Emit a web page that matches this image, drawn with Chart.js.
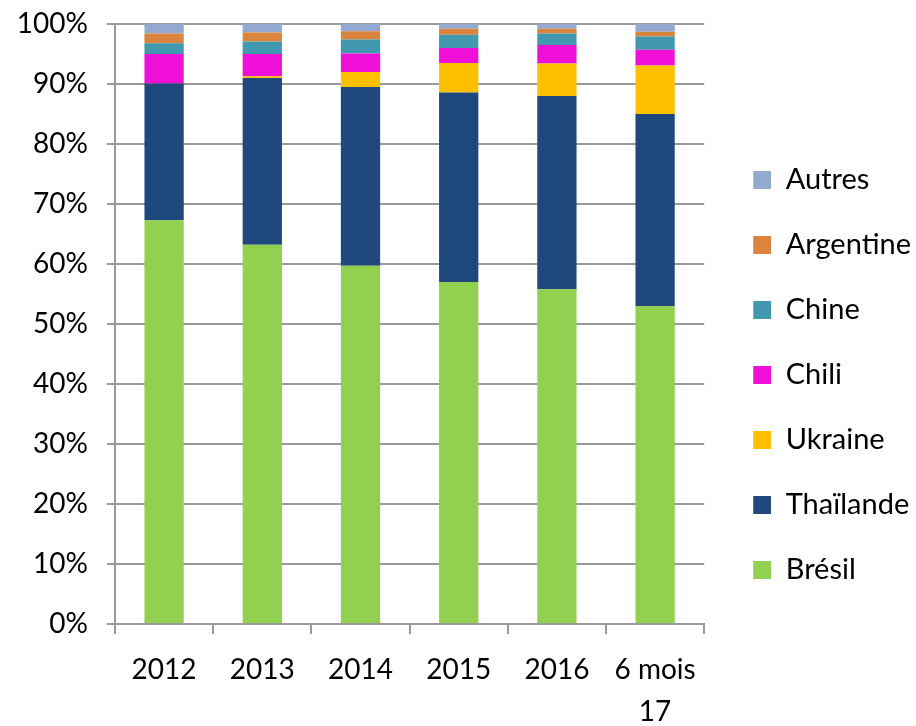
<!DOCTYPE html>
<html>
<head>
<meta charset="utf-8">
<script src="https://cdn.jsdelivr.net/npm/chart.js@4/dist/chart.umd.min.js"></script>
<style>
  html, body { margin: 0; padding: 0; background: #fff; }
  #wrap { width: 916px; height: 726px; }
</style>
</head>
<body>
<div id="wrap"><canvas id="chart" width="916" height="726"></canvas></div>
<script>
// catégories (années)
const years = ['2012', '2013', '2014', '2015', '2016', ['6 mois', '17']];

// parts en % par pays
const bresil    = [67.3, 63.2, 59.7, 57.0, 55.8, 53.0];
const thailande = [22.8, 27.8, 29.8, 31.6, 32.2, 32.0];
const ukraine   = [0.0, 0.3, 2.5, 4.9, 5.4, 8.1];
const chili     = [4.9, 3.7, 3.1, 2.5, 3.1, 2.6];
const chine     = [1.8, 2.1, 2.3, 2.2, 1.9, 2.2];
const argentine = [1.6, 1.5, 1.4, 1.0, 0.8, 0.8];
const autres    = [1.6, 1.4, 1.2, 0.8, 0.8, 1.3];

const yTicks = [0, 10, 20, 30, 40, 50, 60, 70, 80, 90, 100];

const colors = {
  bresil: '#92D050',
  thailande: '#1F497D',
  ukraine: '#FFC000',
  chili: '#F00FD6',
  chine: '#4198AF',
  argentine: '#DB843D',
  autres: '#93A9CF'
};

const fontFamily = 'Lato, "Open Sans", sans-serif';
const gridGray = '#9a9a9a';

// carré de légende décalé à droite (marge transparente à gauche)
const BOX = 18, BOX_SHIFT = 13;
function legendSwatch(color) {
  const c = document.createElement('canvas');
  c.width = BOX + BOX_SHIFT;
  c.height = BOX;
  const ctx = c.getContext('2d');
  ctx.fillStyle = color;
  ctx.fillRect(BOX_SHIFT, 0, BOX, BOX);
  return c;
}

function serie(label, data, color) {
  return {
    label: label,
    data: data,
    backgroundColor: color,
    borderWidth: 0,
    barPercentage: 0.4,
    categoryPercentage: 1.0
  };
}

new Chart(document.getElementById('chart'), {
  type: 'bar',
  data: {
    labels: years,
    datasets: [
      serie('Brésil', bresil, colors.bresil),
      serie('Thaïlande', thailande, colors.thailande),
      serie('Ukraine', ukraine, colors.ukraine),
      serie('Chili', chili, colors.chili),
      serie('Chine', chine, colors.chine),
      serie('Argentine', argentine, colors.argentine),
      serie('Autres', autres, colors.autres)
    ]
  },
  options: {
    responsive: false,
    animation: false,
    layout: {
      padding: { top: 24, right: -5, left: 8, bottom: 0 }
    },
    plugins: {
      tooltip: { enabled: false },
      legend: {
        position: 'right',
        reverse: true,
        labels: {
          usePointStyle: true,
          pointStyleWidth: BOX + BOX_SHIFT,
          boxHeight: BOX,
          padding: 36,
          color: '#000',
          font: { family: fontFamily, size: 29 },
          generateLabels: (chart) => {
            const items = Chart.defaults.plugins.legend.labels.generateLabels(chart);
            items.forEach(it => {
              it.pointStyle = legendSwatch(chart.data.datasets[it.datasetIndex].backgroundColor);
            });
            return items;
          }
        }
      }
    },
    scales: {
      x: {
        stacked: true,
        offset: true,
        afterFit: (axis) => { axis.height = 102; },
        grid: {
          offset: true,
          drawOnChartArea: false,
          drawTicks: true,
          tickLength: 10,
          color: gridGray,
          lineWidth: 2
        },
        border: { color: gridGray, width: 2 },
        ticks: {
          color: '#000',
          padding: 15,
          maxRotation: 0,
          autoSkip: false,
          font: { family: fontFamily, size: 28, lineHeight: 1.5 }
        }
      },
      y: {
        stacked: true,
        min: 0,
        max: 100,
        afterFit: (axis) => { axis.width = 107; },
        afterBuildTicks: (axis) => { axis.ticks = yTicks.map(v => ({ value: v })); },
        grid: {
          color: gridGray,
          lineWidth: 2,
          drawTicks: true,
          tickLength: 8
        },
        border: { color: gridGray, width: 2 },
        ticks: {
          color: '#000',
          padding: 19,
          font: { family: fontFamily, size: 28, lineHeight: 0.35 },
          callback: (v) => v + '%'
        }
      }
    }
  }
});
</script>
</body>
</html>
